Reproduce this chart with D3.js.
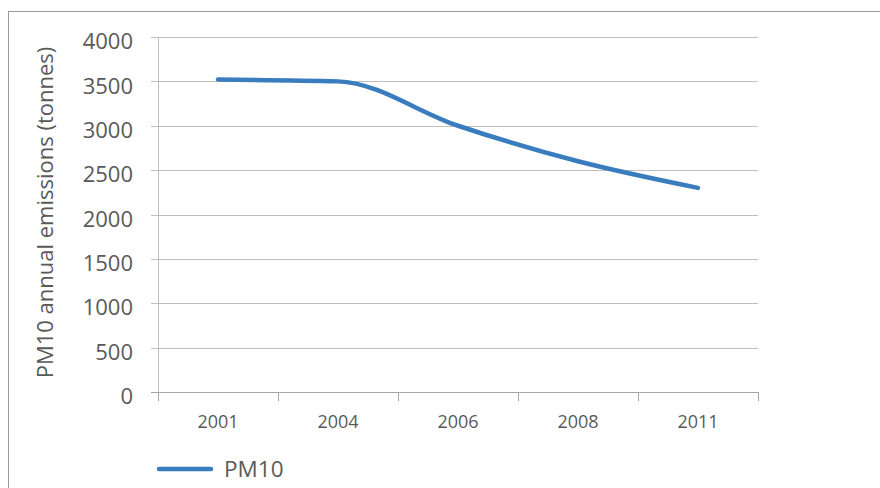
<!DOCTYPE html>
<html>
<head>
<meta charset="utf-8">
<script src="https://cdn.jsdelivr.net/npm/d3@7"></script>
<style>
  html, body { margin: 0; padding: 0; background: #fff; }
  svg { display: block; }
  text { font-family: "Open Sans", "Noto Sans", sans-serif; fill: #5a5a5a; }
</style>
</head>
<body>
<script>
// PM10 annual emissions by year
const years = ["2001", "2004", "2006", "2008", "2011"];
const pm10 = [3520, 3500, 3000, 2600, 2300];
const yTicks = [0, 500, 1000, 1500, 2000, 2500, 3000, 3500, 4000];
const seriesName = "PM10";
const yTitle = "PM10 annual emissions (tonnes)";

const W = 880, H = 488;
const plot = { left: 158, right: 758, top: 37, bottom: 392 };

const svg = d3.select("body").append("svg")
  .attr("width", W).attr("height", H);

// chart frame
svg.append("rect")
  .attr("x", 8.5).attr("y", 11.5)
  .attr("width", W).attr("height", H)
  .attr("fill", "none").attr("stroke", "#9a9a9a").attr("stroke-width", 1);

const x = d3.scaleBand().domain(years).range([plot.left, plot.right]).padding(0);
const y = d3.scaleLinear().domain([0, 4000]).range([plot.bottom, plot.top]);

// horizontal gridlines with short left stubs
svg.append("g")
  .selectAll("line").data(yTicks.filter(d => d > 0)).join("line")
  .attr("x1", plot.left - 7).attr("x2", plot.right)
  .attr("y1", d => Math.round(y(d)) + 0.5).attr("y2", d => Math.round(y(d)) + 0.5)
  .attr("stroke", "#bfbfbf").attr("stroke-width", 1);

// y axis labels
const yAxis = d3.axisLeft(y).tickValues(yTicks).tickSize(0).tickPadding(25)
  .tickFormat(d3.format("d"));
const gy = svg.append("g").attr("transform", `translate(${plot.left},0)`).call(yAxis);
gy.select(".domain").remove();
gy.selectAll("text").style("font-size", "22px").attr("fill", "#5a5a5a")
  .attr("dy", "0.35em").attr("y", 4);

// vertical axis line
svg.append("line")
  .attr("x1", plot.left + 0.5).attr("x2", plot.left + 0.5)
  .attr("y1", plot.top).attr("y2", plot.bottom)
  .attr("stroke", "#bfbfbf");

// x axis with tick marks at band boundaries
const bounds = years.map(d => x(d)).concat([plot.right]);
svg.append("line")
  .attr("x1", plot.left - 7).attr("x2", plot.right)
  .attr("y1", plot.bottom + 0.5).attr("y2", plot.bottom + 0.5)
  .attr("stroke", "#a6a6a6");
svg.append("g").selectAll("line").data(bounds).join("line")
  .attr("x1", d => Math.round(d) + 0.5).attr("x2", d => Math.round(d) + 0.5)
  .attr("y1", plot.bottom).attr("y2", plot.bottom + 9)
  .attr("stroke", "#a6a6a6");
svg.append("g").selectAll("text").data(years).join("text")
  .attr("x", d => x(d) + x.bandwidth() / 2)
  .attr("y", 428)
  .attr("text-anchor", "middle")
  .style("font-size", "18px")
  .text(d => d);

// y axis title
svg.append("text")
  .attr("transform", `translate(53,${(plot.top + plot.bottom) / 2 - 2}) rotate(-90)`)
  .attr("text-anchor", "middle")
  .style("font-size", "22px")
  .text(yTitle);

// smoothed series line
const line = d3.line()
  .x((d, i) => x(years[i]) + x.bandwidth() / 2)
  .y(d => y(d))
  .curve(d3.curveMonotoneX);
svg.append("path")
  .datum(pm10)
  .attr("d", line)
  .attr("fill", "none")
  .attr("stroke", "#3a7dbf")
  .attr("stroke-width", 4.5)
  .attr("stroke-linecap", "round")
  .attr("stroke-linejoin", "round");

// legend
const lg = svg.append("g").attr("transform", "translate(0,469)");
lg.append("line")
  .attr("x1", 159).attr("x2", 211).attr("y1", 0).attr("y2", 0)
  .attr("stroke", "#3a7dbf").attr("stroke-width", 4.5).attr("stroke-linecap", "round");
lg.append("text")
  .attr("x", 224).attr("y", 8)
  .style("font-size", "22.5px")
  .text(seriesName);
</script>
</body>
</html>
